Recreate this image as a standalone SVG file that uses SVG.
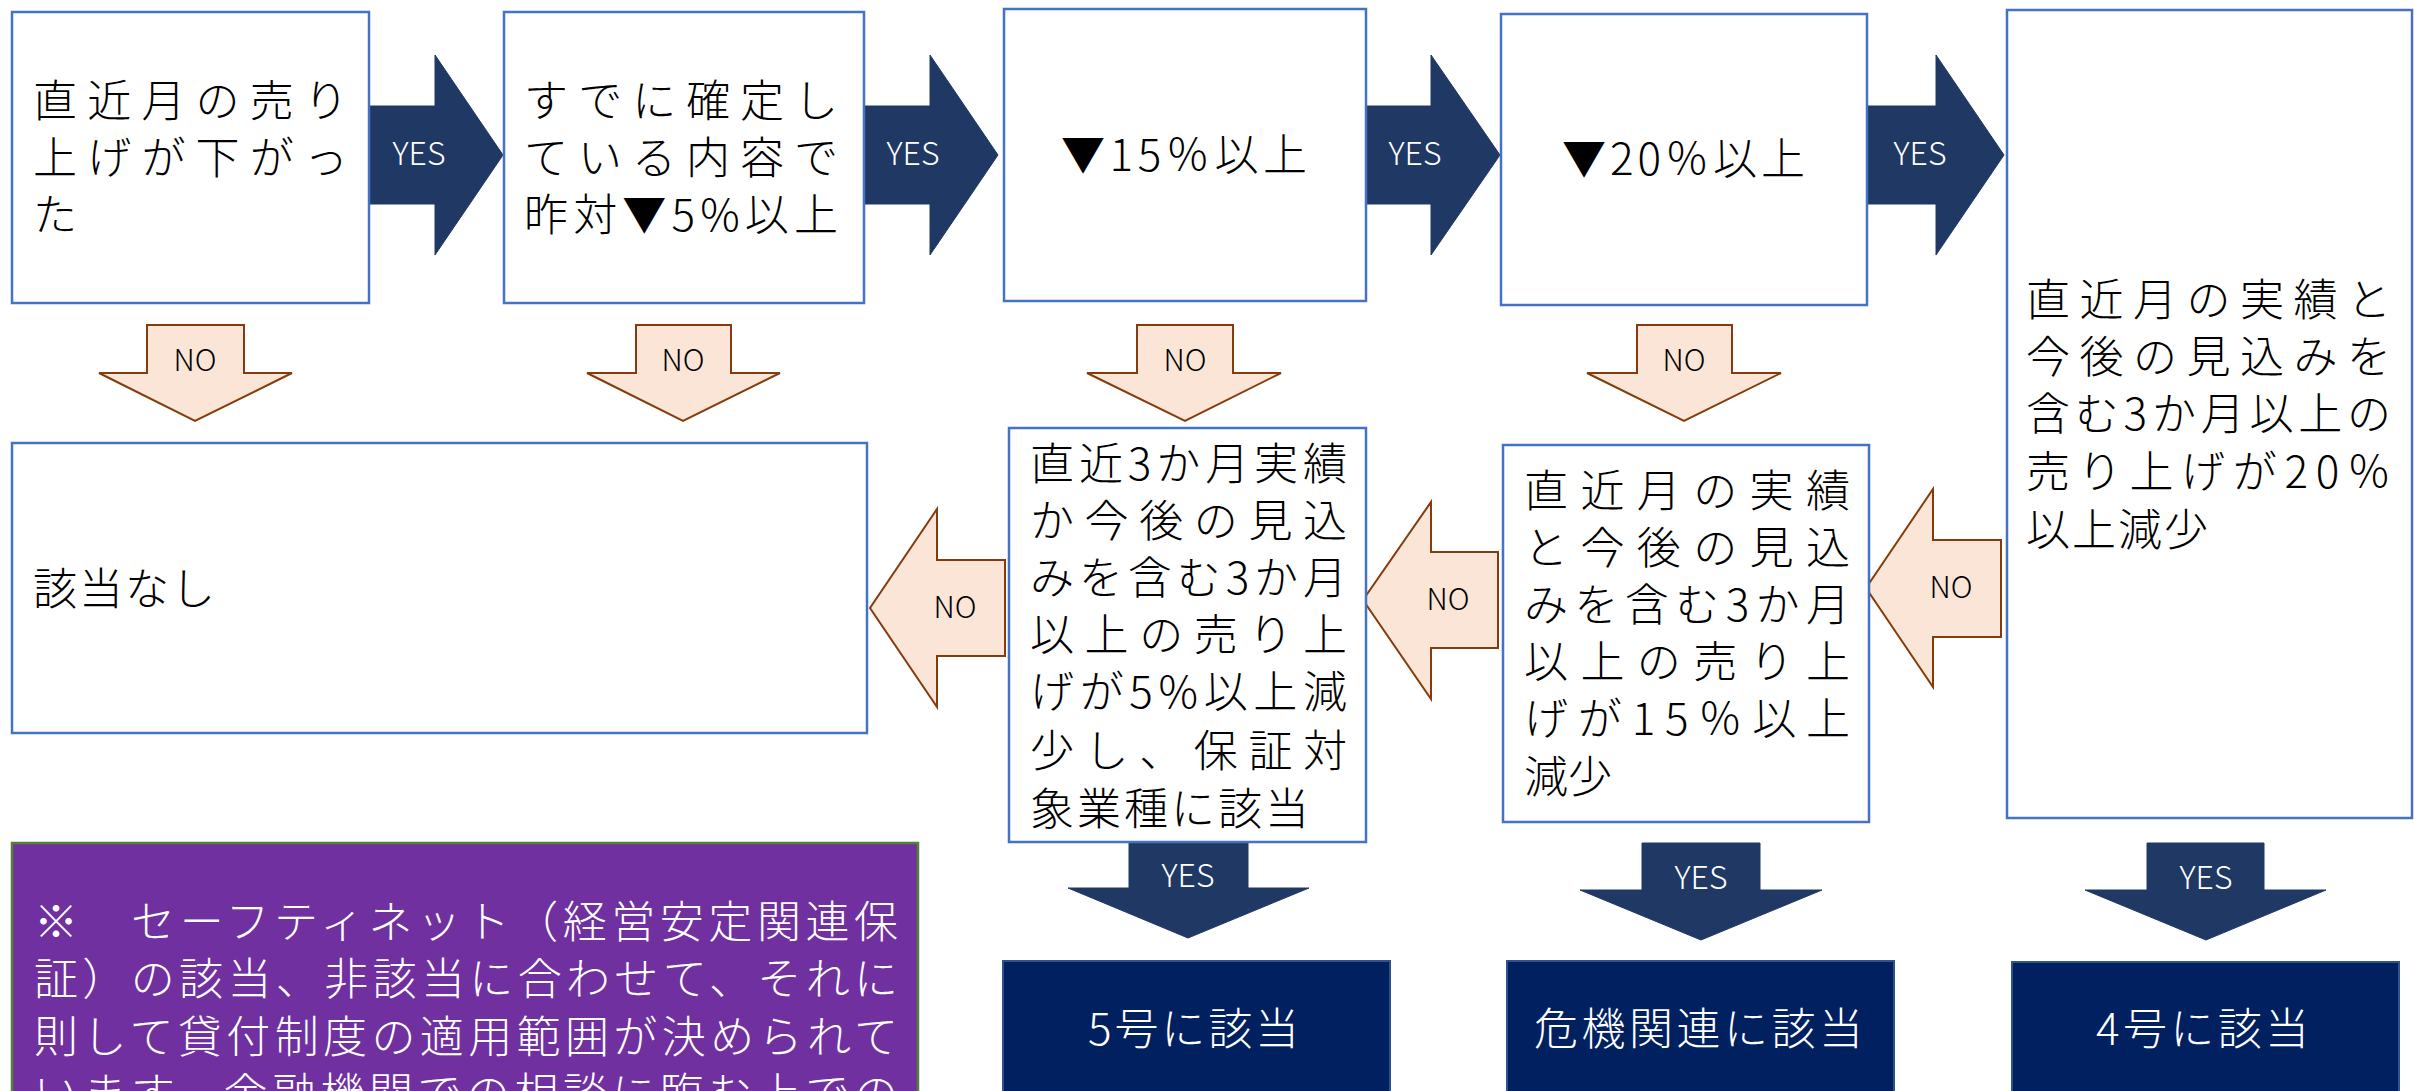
<svg xmlns="http://www.w3.org/2000/svg" width="2414" height="1091" viewBox="0 0 2414 1091">
<style>
text { font-family: "Noto Sans CJK JP", "Noto Sans", sans-serif; font-weight: 300; }
.box { fill: #FFFFFF; stroke: #4472C4; stroke-width: 2.5; }
.res { fill: #002060; stroke: #2F528F; stroke-width: 2; }
.note { fill: #7030A0; stroke: #548235; stroke-width: 2.5; }
.t { font-size: 44px; fill: #000000; }
.tw { font-size: 44px; fill: #FFFFFF; }
.yes { fill: #203864; stroke: #203864; stroke-width: 1; }
.no { fill: #FBE5D6; stroke: #843C0C; stroke-width: 2; }
.yl { font-size: 32px; fill: #FFFFFF; text-anchor: middle; }
.nl { font-size: 30px; fill: #000000; text-anchor: middle; }
</style>
<rect width="2414" height="1091" fill="#FFFFFF"/>

<g id="connectors">
  <path class="yes" d="M369,106 H435 V55 L503,155 L435,255 V204 H369 Z"/>
  <path class="yes" d="M864,106 H930 V55 L998,155 L930,255 V204 H864 Z"/>
  <path class="yes" d="M1366,106 H1431 V55 L1500,155 L1431,255 V204 H1366 Z"/>
  <path class="yes" d="M1867,106 H1936 V55 L2004,155 L1936,255 V204 H1867 Z"/>
  <text class="yl" x="419" y="165">YES</text>
  <text class="yl" x="913" y="165">YES</text>
  <text class="yl" x="1415" y="165">YES</text>
  <text class="yl" x="1920" y="165">YES</text>

  <path class="no" d="M147,325 H244 V373 H292 L195,421 L99,373 H147 Z"/>
  <path class="no" d="M636,325 H731 V373 H780 L683,421 L587,373 H636 Z"/>
  <path class="no" d="M1137,325 H1233 V373 H1281 L1185,421 L1087,373 H1137 Z"/>
  <path class="no" d="M1637,325 H1732 V373 H1781 L1684,421 L1587,373 H1637 Z"/>
  <text class="nl" x="195" y="371">NO</text>
  <text class="nl" x="683" y="371">NO</text>
  <text class="nl" x="1185" y="371">NO</text>
  <text class="nl" x="1684" y="371">NO</text>

  <path class="no" d="M1005,560 V656 H937 V707 L870,608 L937,509 V560 Z"/>
  <path class="no" d="M1498,552 V648 H1431 V699 L1363,600 L1431,502 V552 Z"/>
  <path class="no" d="M2001,540 V637 H1933 V687 L1866,588 L1933,489 V540 Z"/>
  <text class="nl" x="955" y="618">NO</text>
  <text class="nl" x="1448" y="610">NO</text>
  <text class="nl" x="1951" y="598">NO</text>

  <path class="yes" d="M1129,843 H1248 V888 H1309 L1188,938 L1068,888 H1129 Z"/>
  <path class="yes" d="M1642,843 H1760 V890 H1822 L1701,940 L1580,890 H1642 Z"/>
  <path class="yes" d="M2147,843 H2264 V890 H2326 L2206,940 L2085,890 H2147 Z"/>
  <text class="yl" x="1188" y="887">YES</text>
  <text class="yl" x="1701" y="889">YES</text>
  <text class="yl" x="2206" y="889">YES</text>
</g>

<g id="node-start">
  <rect class="box" x="12" y="12" width="357" height="291"/>
  <text class="t" x="33" y="117" textLength="315" lengthAdjust="spacing">直近月の売り</text>
  <text class="t" x="33" y="174" textLength="315" lengthAdjust="spacing">上げが下がっ</text>
  <text class="t" x="33" y="231">た</text>
</g>

<g id="node-5pct">
  <rect class="box" x="504" y="12" width="360" height="291"/>
  <text class="t" x="524" y="117" textLength="314" lengthAdjust="spacing">すでに確定し</text>
  <text class="t" x="524" y="174" textLength="314" lengthAdjust="spacing">ている内容で</text>
  <text class="t" x="524" y="231" textLength="314" lengthAdjust="spacing">昨対▼5%以上</text>
</g>

<g id="node-15pct">
  <rect class="box" x="1004" y="9" width="362" height="292"/>
  <text class="t" x="1061" y="171" textLength="246" lengthAdjust="spacing">▼15％以上</text>
</g>

<g id="node-20pct">
  <rect class="box" x="1501" y="14" width="366" height="291"/>
  <text class="t" x="1562" y="175" textLength="243" lengthAdjust="spacing">▼20％以上</text>
</g>

<g id="node-4go-cond">
  <rect class="box" x="2007" y="10" width="405" height="808"/>
  <text class="t" x="2026" y="316" textLength="365" lengthAdjust="spacing">直近月の実績と</text>
  <text class="t" x="2026" y="373" textLength="365" lengthAdjust="spacing">今後の見込みを</text>
  <text class="t" x="2026" y="430" textLength="365" lengthAdjust="spacing">含む3か月以上の</text>
  <text class="t" x="2026" y="488" textLength="365" lengthAdjust="spacing">売り上げが20％</text>
  <text class="t" x="2026" y="546" letter-spacing="2">以上減少</text>
</g>

<g id="node-none">
  <rect class="box" x="12" y="443" width="855" height="290"/>
  <text class="t" x="33" y="605" letter-spacing="2">該当なし</text>
</g>

<g id="node-5go-cond">
  <rect class="box" x="1009" y="428" width="357" height="414"/>
  <text class="t" x="1030" y="480" textLength="317" lengthAdjust="spacing">直近3か月実績</text>
  <text class="t" x="1030" y="537" textLength="317" lengthAdjust="spacing">か今後の見込</text>
  <text class="t" x="1030" y="594" textLength="317" lengthAdjust="spacing">みを含む3か月</text>
  <text class="t" x="1030" y="651" textLength="317" lengthAdjust="spacing">以上の売り上</text>
  <text class="t" x="1030" y="708" textLength="317" lengthAdjust="spacing">げが5%以上減</text>
  <text class="t" x="1030" y="767" textLength="317" lengthAdjust="spacing">少し、保証対</text>
  <text class="t" x="1030" y="825" letter-spacing="3">象業種に該当</text>
</g>

<g id="node-crisis-cond">
  <rect class="box" x="1503" y="445" width="366" height="377"/>
  <text class="t" x="1524" y="507" textLength="326" lengthAdjust="spacing">直近月の実績</text>
  <text class="t" x="1524" y="564" textLength="326" lengthAdjust="spacing">と今後の見込</text>
  <text class="t" x="1524" y="621" textLength="326" lengthAdjust="spacing">みを含む3か月</text>
  <text class="t" x="1524" y="678" textLength="326" lengthAdjust="spacing">以上の売り上</text>
  <text class="t" x="1524" y="735" textLength="326" lengthAdjust="spacing">げが15％以上</text>
  <text class="t" x="1524" y="793">減少</text>
</g>

<g id="node-note">
  <rect class="note" x="12" y="843" width="906" height="260"/>
  <text class="tw" x="34" y="938" textLength="864" lengthAdjust="spacing">※　セーフティネット（経営安定関連保</text>
  <text class="tw" x="34" y="995" textLength="864" lengthAdjust="spacing">証）の該当、非該当に合わせて、それに</text>
  <text class="tw" x="34" y="1053" textLength="864" lengthAdjust="spacing">則して貸付制度の適用範囲が決められて</text>
  <text class="tw" x="34" y="1110" textLength="864" lengthAdjust="spacing">います。金融機関での相談に臨む上での</text>
</g>

<g id="node-5go">
  <rect class="res" x="1003" y="961" width="387" height="140"/>
  <text class="tw" x="1088" y="1045" textLength="211" lengthAdjust="spacing">5号に該当</text>
</g>

<g id="node-crisis">
  <rect class="res" x="1507" y="961" width="387" height="140"/>
  <text class="tw" x="1534" y="1045" textLength="329" lengthAdjust="spacing">危機関連に該当</text>
</g>

<g id="node-4go">
  <rect class="res" x="2012" y="962" width="387" height="140"/>
  <text class="tw" x="2096" y="1045" textLength="213" lengthAdjust="spacing">4号に該当</text>
</g>
</svg>
